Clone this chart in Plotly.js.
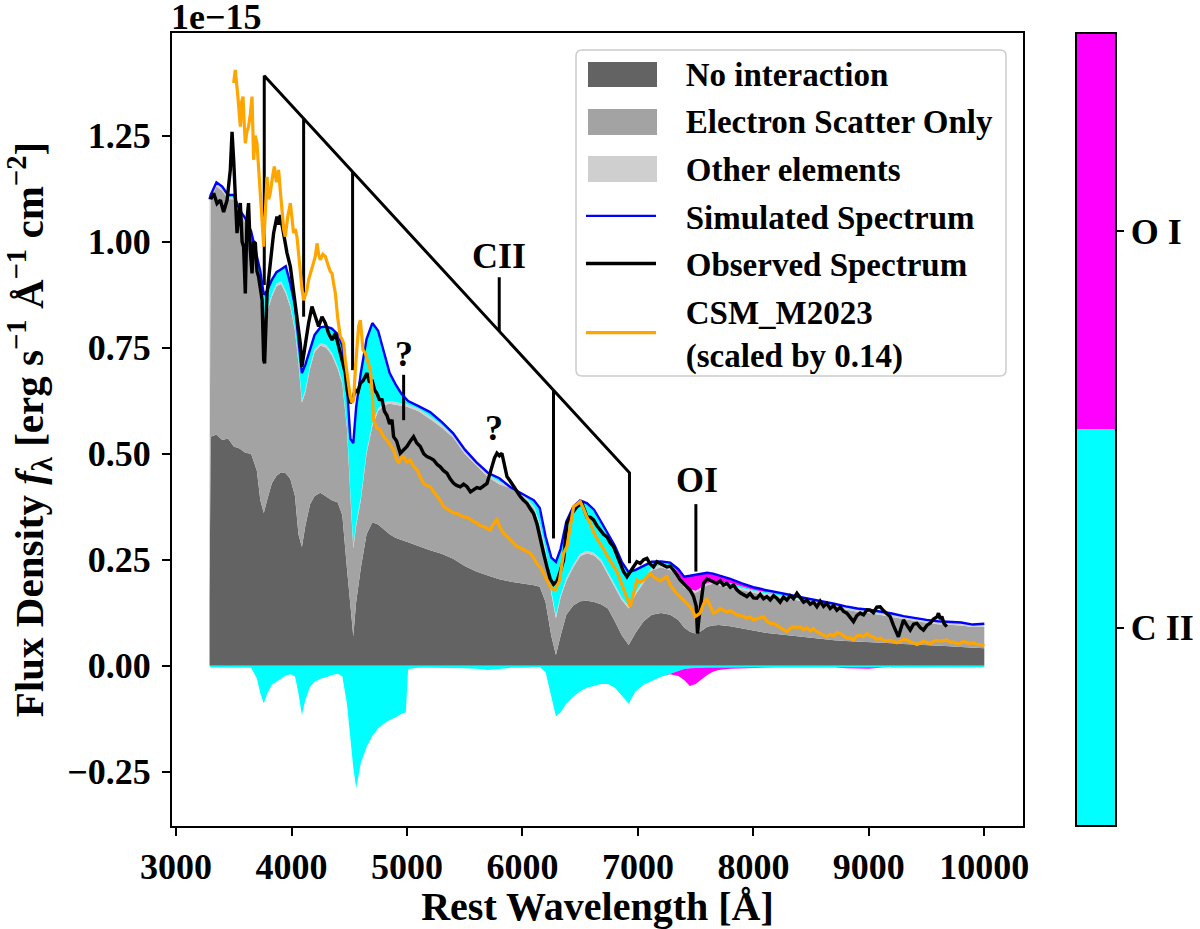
<!DOCTYPE html>
<html>
<head>
<meta charset="utf-8">
<script src="https://cdn.plot.ly/plotly-3.0.1.min.js"></script>
<style>html,body{margin:0;padding:0;background:#fff;}#chart{width:1200px;height:929px;}</style>
</head>
<body>
<div id="chart"></div>
<script>
// ---- model grid (Angstrom) ----
const wlModel = [
 3290,3300,3350,3400,3450,3500,3550,3600,3650,3700,
 3730,3760,3790,3830,3870,3910,3950,3990,4030,4060,
 4090,4120,4160,4200,4250,4300,4350,4400,4440,4480,
 4510,4535,4560,4600,4650,4700,4750,4800,4850,4900,
 4950,4990,5010,5100,5200,5300,5400,5500,5600,5700,
 5800,5900,6000,6100,6150,6200,6250,6290,6330,6380,
 6440,6500,6560,6620,6680,6740,6800,6860,6920,6980,
 7050,7120,7200,7280,7350,7400,7450,7500,7550,7600,
 7650,7700,7800,7900,8000,8100,8200,8300,8400,8500,
 8600,8700,8800,8900,9000,9100,9200,9300,9400,9500,
 9600,9700,9800,9900,10000];

// No interaction (top of dark grey)
const noInteraction = [
 0.155,0.54,0.545,0.532,0.536,0.517,0.512,0.502,0.50,0.46,
 0.39,0.36,0.392,0.43,0.448,0.456,0.454,0.44,0.40,0.31,
 0.28,0.33,0.38,0.40,0.408,0.40,0.39,0.385,0.355,0.23,
 0.15,0.07,0.15,0.23,0.31,0.338,0.333,0.322,0.31,0.302,
 0.296,0.293,0.291,0.282,0.272,0.264,0.252,0.235,0.222,0.213,
 0.204,0.198,0.194,0.19,0.186,0.15,0.07,0.025,0.07,0.12,
 0.142,0.152,0.153,0.150,0.145,0.135,0.105,0.072,0.049,0.078,
 0.105,0.12,0.124,0.12,0.108,0.09,0.08,0.076,0.082,0.092,
 0.095,0.096,0.093,0.088,0.082,0.078,0.075,0.072,0.069,0.065,
 0.062,0.06,0.058,0.057,0.055,0.054,0.053,0.051,0.05,0.049,
 0.047,0.046,0.044,0.043,0.041];

// Electron scatter only (cumulative top of mid grey)
const electronTop = [
 0.31,1.10,1.13,1.12,1.10,1.10,1.065,1.045,1.015,0.955,
 0.86,0.818,0.835,0.87,0.895,0.90,0.878,0.845,0.79,0.715,
 0.62,0.645,0.70,0.74,0.755,0.75,0.732,0.70,0.665,0.56,
 0.40,0.277,0.33,0.39,0.50,0.565,0.60,0.615,0.618,0.615,
 0.613,0.612,0.61,0.60,0.582,0.562,0.538,0.50,0.472,0.445,
 0.428,0.418,0.40,0.37,0.33,0.27,0.17,0.112,0.16,0.20,
 0.232,0.258,0.265,0.26,0.245,0.215,0.185,0.155,0.135,0.168,
 0.196,0.225,0.232,0.225,0.21,0.185,0.176,0.172,0.18,0.19,
 0.193,0.19,0.185,0.179,0.172,0.166,0.162,0.158,0.153,0.149,
 0.143,0.138,0.132,0.127,0.124,0.12,0.115,0.11,0.105,0.101,
 0.098,0.097,0.095,0.091,0.092];

// Other elements (cumulative top of light grey)
const otherTop = [
 1.095,1.106,1.136,1.126,1.106,1.106,1.071,1.051,1.021,0.961,
 0.866,0.824,0.841,0.876,0.901,0.906,0.884,0.851,0.796,0.721,
 0.626,0.651,0.706,0.746,0.761,0.756,0.738,0.706,0.671,0.566,
 0.406,0.283,0.336,0.396,0.506,0.571,0.606,0.621,0.624,0.621,
 0.619,0.618,0.616,0.606,0.588,0.568,0.544,0.506,0.478,0.451,
 0.434,0.424,0.405,0.376,0.336,0.276,0.176,0.118,0.166,0.206,
 0.238,0.264,0.271,0.266,0.251,0.221,0.191,0.161,0.141,0.174,
 0.202,0.231,0.238,0.231,0.216,0.19,0.181,0.177,0.185,0.195,
 0.198,0.195,0.19,0.184,0.177,0.171,0.167,0.163,0.158,0.154,
 0.148,0.143,0.137,0.132,0.129,0.125,0.12,0.115,0.11,0.106,
 0.103,0.102,0.1,0.096,0.097];

// C II contribution (cumulative top of cyan)
const ciiTop = [
 1.10,1.11,1.14,1.13,1.11,1.11,1.075,1.055,1.025,0.97,
 0.93,0.875,0.885,0.91,0.928,0.935,0.942,0.90,0.85,0.77,
 0.69,0.71,0.745,0.78,0.798,0.80,0.795,0.782,0.755,0.66,
 0.535,0.525,0.61,0.69,0.77,0.808,0.79,0.737,0.69,0.664,
 0.642,0.63,0.624,0.612,0.598,0.575,0.548,0.51,0.48,0.455,
 0.442,0.42,0.405,0.39,0.372,0.305,0.255,0.245,0.275,0.34,
 0.375,0.39,0.383,0.368,0.34,0.31,0.283,0.245,0.22,0.226,
 0.235,0.245,0.246,0.243,0.218,0.19,0.181,0.177,0.185,0.195,
 0.198,0.198,0.195,0.187,0.179,0.174,0.172,0.168,0.162,0.157,
 0.151,0.146,0.14,0.135,0.132,0.128,0.123,0.117,0.112,0.108,
 0.105,0.104,0.102,0.097,0.099];

// Simulated spectrum (total, blue line; top of O I magenta)
const simulated = [
 1.10,1.11,1.14,1.13,1.11,1.11,1.075,1.055,1.025,0.97,
 0.93,0.875,0.885,0.91,0.928,0.935,0.942,0.90,0.85,0.77,
 0.69,0.71,0.745,0.78,0.798,0.80,0.795,0.782,0.755,0.66,
 0.535,0.525,0.61,0.69,0.77,0.808,0.79,0.737,0.69,0.664,
 0.642,0.63,0.624,0.612,0.598,0.575,0.548,0.51,0.48,0.455,
 0.442,0.42,0.405,0.39,0.372,0.305,0.255,0.245,0.275,0.34,
 0.375,0.39,0.383,0.368,0.34,0.31,0.283,0.245,0.22,0.226,
 0.235,0.245,0.246,0.243,0.228,0.21,0.212,0.214,0.216,0.219,
 0.217,0.213,0.205,0.194,0.185,0.179,0.174,0.168,0.162,0.157,
 0.151,0.146,0.14,0.135,0.132,0.128,0.123,0.117,0.112,0.108,
 0.105,0.104,0.102,0.097,0.099];

// negative contributions
const ciiNeg = [
 0,-0.004,-0.004,-0.004,-0.004,-0.004,-0.004,-0.004,-0.005,-0.03,
 -0.065,-0.089,-0.065,-0.045,-0.038,-0.03,-0.023,-0.02,-0.025,-0.065,
 -0.116,-0.08,-0.05,-0.038,-0.031,-0.027,-0.022,-0.019,-0.025,-0.09,
 -0.17,-0.24,-0.289,-0.23,-0.192,-0.165,-0.148,-0.136,-0.128,-0.122,
 -0.114,-0.11,-0.008,-0.005,-0.005,-0.005,-0.006,-0.006,-0.007,-0.01,
 -0.008,-0.005,-0.005,-0.003,-0.003,-0.015,-0.07,-0.12,-0.11,-0.09,
 -0.073,-0.06,-0.052,-0.047,-0.043,-0.043,-0.052,-0.07,-0.089,-0.06,
 -0.045,-0.036,-0.026,-0.019,-0.012,-0.008,-0.006,-0.005,-0.005,-0.004,
 -0.004,-0.004,-0.003,-0.003,-0.003,-0.003,-0.003,-0.003,-0.003,-0.003,
 -0.003,-0.003,-0.003,-0.003,-0.003,-0.003,-0.003,-0.003,-0.003,-0.003,
 -0.003,-0.003,-0.003,-0.003,-0.003];
const oiNeg = [
 0,-0.004,-0.004,-0.004,-0.004,-0.004,-0.004,-0.004,-0.005,-0.03,
 -0.065,-0.089,-0.065,-0.045,-0.038,-0.03,-0.023,-0.02,-0.025,-0.065,
 -0.116,-0.08,-0.05,-0.038,-0.031,-0.027,-0.022,-0.019,-0.025,-0.09,
 -0.17,-0.24,-0.289,-0.23,-0.192,-0.165,-0.148,-0.136,-0.128,-0.122,
 -0.114,-0.11,-0.008,-0.005,-0.005,-0.005,-0.006,-0.006,-0.007,-0.01,
 -0.008,-0.005,-0.005,-0.003,-0.003,-0.015,-0.07,-0.12,-0.11,-0.09,
 -0.073,-0.06,-0.052,-0.047,-0.043,-0.043,-0.052,-0.07,-0.089,-0.06,
 -0.045,-0.036,-0.026,-0.02,-0.024,-0.034,-0.048,-0.043,-0.032,-0.022,
 -0.014,-0.01,-0.007,-0.006,-0.005,-0.004,-0.004,-0.004,-0.004,-0.004,
 -0.004,-0.004,-0.006,-0.007,-0.007,-0.005,-0.003,-0.003,-0.003,-0.003,
 -0.003,-0.003,-0.003,-0.003,-0.003];

// ---- observed spectrum ----
const obsWave = [
 3300,3326,3355,3384,3412,3442,3470,3485,3499,3513,
 3528,3557,3572,3585,3600,3614,3628,3643,3658,3672,
 3687,3701,3715,3730,3745,3759,3767,3788,3816,3845,
 3874,3889,3903,3932,3961,3990,4018,4047,4076,4090,
 4120,4148,4177,4206,4235,4264,4293,4321,4351,4380,
 4408,4437,4466,4481,4509,4530,4553,4575,4596,4620,
 4654,4675,4697,4720,4740,4760,4784,4805,4827,4850,
 4870,4884,4910,4942,4970,5000,5030,5057,5085,5115,
 5145,5173,5200,5231,5260,5288,5317,5346,5375,5404,
 5430,5462,5490,5520,5550,5577,5605,5635,5663,5693,
 5715,5736,5758,5779,5800,5822,5845,5866,5895,5923,
 5950,5981,6010,6039,6068,6096,6125,6154,6183,6212,
 6240,6269,6300,6330,6356,6385,6428,6472,6515,6540,
 6558,6590,6616,6645,6674,6703,6732,6760,6789,6818,
 6847,6875,6905,6935,6962,6991,7020,7050,7078,7106,
 7135,7164,7193,7222,7251,7280,7308,7337,7366,7395,
 7424,7453,7482,7505,7516,7528,7539,7555,7568,7597,
 7626,7655,7684,7713,7741,7771,7800,7828,7857,7886,
 7914,7944,7972,8001,8030,8059,8088,8117,8146,8175,
 8203,8232,8261,8290,8319,8348,8377,8406,8435,8463,
 8492,8521,8550,8579,8608,8636,8665,8694,8723,8752,
 8781,8810,8838,8867,8896,8925,8954,8983,9011,9040,
 9069,9098,9126,9155,9184,9213,9240,9256,9280,9300,
 9330,9358,9387,9416,9445,9473,9502,9531,9560,9590,
 9603,9618,9632,9650,9675];
const obsFlux = [
 1.10,1.114,1.09,1.098,1.07,1.098,1.169,1.259,1.193,1.114,
 1.02,1.091,1.0,0.988,0.878,1.05,1.091,0.98,0.925,1.0,
 0.996,0.93,0.917,0.89,0.862,0.721,0.713,0.878,0.957,1.02,
 1.059,1.04,1.063,1.012,0.973,0.941,0.878,0.815,0.76,0.705,
 0.76,0.808,0.847,0.823,0.80,0.823,0.808,0.784,0.768,0.784,
 0.752,0.721,0.69,0.65,0.619,0.63,0.65,0.645,0.666,0.672,
 0.69,0.668,0.674,0.65,0.642,0.628,0.627,0.60,0.59,0.57,
 0.58,0.54,0.53,0.501,0.51,0.517,0.53,0.54,0.525,0.517,
 0.50,0.493,0.49,0.485,0.475,0.469,0.46,0.454,0.44,0.43,
 0.425,0.422,0.428,0.422,0.41,0.414,0.42,0.418,0.425,0.43,
 0.45,0.469,0.49,0.501,0.495,0.501,0.47,0.446,0.435,0.422,
 0.41,0.399,0.39,0.383,0.37,0.359,0.335,0.304,0.265,0.233,
 0.205,0.192,0.20,0.225,0.249,0.336,0.359,0.375,0.383,0.365,
 0.351,0.35,0.344,0.33,0.32,0.31,0.304,0.29,0.281,0.26,
 0.241,0.222,0.21,0.222,0.233,0.245,0.241,0.25,0.253,0.24,
 0.233,0.245,0.241,0.236,0.233,0.235,0.226,0.215,0.202,0.195,
 0.186,0.178,0.163,0.14,0.076,0.11,0.131,0.17,0.194,0.205,
 0.202,0.198,0.194,0.20,0.19,0.194,0.185,0.19,0.179,0.172,
 0.168,0.163,0.17,0.16,0.159,0.168,0.158,0.163,0.155,0.165,
 0.159,0.15,0.162,0.155,0.165,0.158,0.171,0.16,0.15,0.155,
 0.145,0.15,0.139,0.152,0.14,0.147,0.135,0.142,0.131,0.138,
 0.128,0.124,0.115,0.104,0.118,0.124,0.12,0.132,0.131,0.125,
 0.138,0.139,0.13,0.122,0.116,0.095,0.08,0.068,0.09,0.108,
 0.095,0.084,0.098,0.10,0.09,0.084,0.095,0.10,0.11,0.115,
 0.124,0.11,0.116,0.10,0.092];

// ---- CSM_M2023 model (scaled by 0.14) ----
const csmWave = [
 3499,3513,3533,3545,3557,3568,3580,3590,3600,3614,
 3628,3643,3658,3672,3686,3701,3715,3730,3745,3759,
 3774,3788,3802,3816,3834,3851,3870,3888,3903,3918,
 3932,3946,3968,3990,4004,4018,4032,4047,4062,4076,
 4090,4105,4120,4134,4148,4163,4185,4206,4221,4235,
 4250,4271,4293,4307,4321,4336,4351,4365,4380,4400,
 4423,4437,4452,4466,4481,4495,4509,4524,4538,4553,
 4567,4581,4596,4610,4619,4639,4660,4683,4700,4711,
 4740,4769,4798,4827,4855,4884,4905,4928,4950,4971,
 5000,5028,5057,5087,5115,5144,5173,5202,5231,5260,
 5288,5317,5346,5375,5404,5433,5462,5490,5520,5548,
 5577,5606,5635,5663,5692,5721,5750,5779,5808,5836,
 5865,5894,5923,5952,5981,6010,6039,6068,6096,6125,
 6154,6183,6212,6241,6269,6284,6320,6356,6385,6414,
 6443,6470,6500,6530,6558,6587,6616,6645,6674,6703,
 6732,6760,6789,6818,6847,6875,6905,6934,6962,6991,
 7020,7049,7078,7106,7135,7164,7193,7222,7251,7280,
 7308,7337,7366,7395,7424,7453,7475,7496,7518,7539,
 7568,7597,7626,7655,7684,7712,7741,7770,7799,7827,
 7856,7885,7914,7943,7972,8001,8030,8059,8088,8117,
 8146,8175,8204,8233,8261,8290,8319,8348,8377,8406,
 8435,8463,8492,8521,8550,8579,8608,8636,8665,8694,
 8723,8752,8781,8810,8838,8867,8896,8925,8954,8983,
 9011,9040,9069,9098,9126,9155,9184,9213,9242,9271,
 9300,9329,9358,9386,9415,9444,9473,9502,9531,9560,
 9589,9617,9646,9675,9704,9733,9762,9790,9819,9848,
 9877,9906,9935,9964,10000];
const csmFlux = [
 1.374,1.405,1.35,1.30,1.271,1.33,1.342,1.28,1.232,1.26,
 1.271,1.30,1.342,1.193,1.25,1.232,1.18,1.114,1.05,0.988,
 1.08,1.153,1.10,1.114,1.15,1.177,1.14,1.169,1.12,1.067,
 1.03,1.012,1.06,1.091,1.05,1.02,1.03,1.012,0.97,0.925,
 0.89,0.862,0.875,0.886,0.91,0.925,0.945,0.965,0.996,0.97,
 0.957,0.97,0.965,0.95,0.941,0.93,0.925,0.90,0.878,0.82,
 0.776,0.77,0.76,0.72,0.69,0.66,0.634,0.62,0.627,0.70,
 0.76,0.80,0.815,0.77,0.745,0.737,0.72,0.697,0.64,0.579,
 0.56,0.556,0.54,0.532,0.52,0.509,0.49,0.477,0.49,0.493,
 0.48,0.485,0.47,0.462,0.445,0.43,0.425,0.422,0.41,0.399,
 0.39,0.375,0.37,0.367,0.36,0.359,0.355,0.351,0.35,0.344,
 0.34,0.336,0.33,0.328,0.325,0.32,0.335,0.344,0.325,0.312,
 0.305,0.297,0.29,0.281,0.278,0.273,0.27,0.265,0.255,0.241,
 0.233,0.218,0.20,0.186,0.18,0.179,0.20,0.265,0.281,0.33,
 0.375,0.38,0.387,0.37,0.35,0.336,0.315,0.30,0.289,0.275,
 0.26,0.249,0.235,0.222,0.202,0.18,0.16,0.14,0.17,0.202,
 0.197,0.202,0.21,0.218,0.21,0.205,0.20,0.205,0.21,0.19,
 0.179,0.17,0.163,0.155,0.148,0.139,0.13,0.116,0.12,0.124,
 0.145,0.159,0.14,0.124,0.128,0.135,0.131,0.126,0.13,0.124,
 0.12,0.118,0.116,0.112,0.115,0.108,0.11,0.113,0.116,0.105,
 0.10,0.10,0.095,0.09,0.085,0.08,0.088,0.092,0.09,0.092,
 0.085,0.09,0.082,0.088,0.08,0.075,0.072,0.068,0.074,0.07,
 0.078,0.076,0.07,0.065,0.066,0.061,0.07,0.072,0.068,0.076,
 0.07,0.068,0.062,0.065,0.06,0.058,0.06,0.057,0.054,0.058,
 0.062,0.061,0.056,0.054,0.05,0.053,0.058,0.055,0.052,0.057,
 0.06,0.058,0.06,0.061,0.055,0.056,0.052,0.053,0.057,0.054,
 0.052,0.054,0.05,0.05,0.047];

// ---- line-identification marks ----
const markX = [3764,3764,6927,6927,null,4105,4105,null,4529,4529,null,6269,6269,null,5799,5799,null,4971,4971,null,7502,7502];
const markY = [0.898,1.391,0.455,0.2415,null,1.290,0.823,null,1.165,0.697,null,0.650,0.300,null,0.789,0.916,null,0.579,0.686,null,0.222,0.381];
const labelText = ['CII','?','?','OI'];
const labelX = [5799,4977,5756,7511];
const labelY = [0.966,0.735,0.561,0.438];

// ---- axes ticks / legend / colorbar text ----
const xTicks = [3000,4000,5000,6000,7000,8000,9000,10000];
const xTickText = ['3000','4000','5000','6000','7000','8000','9000','10000'];
const yTicks = [-0.25,0,0.25,0.5,0.75,1.0,1.25];
const legendNames = ['No interaction','Electron Scatter Only','Other elements',
  'Simulated Spectrum','Observed Spectrum','CSM_M2023<br>(scaled by 0.14)'];
const colorbarLevels = [0, 2];
const colorbarTickVals = [0.5, 1.5];
const colorbarTickText = ['C II', 'O I'];

const FONT = "'Liberation Serif', 'Times New Roman', serif";
const DARK = '#636363', MID = '#a3a3a3', LIGHT = '#cfcfcf', CYAN = '#00ffff', MAG = '#ff00ff';
const PAD = '\u00a0\u00a0\u00a0';
const legendLabel = n => n.split('<br>').map(s => PAD + s).join('<br>');

function fillTrace(y, fill, color, name) {
  return {x: wlModel, y: y, type: 'scatter', mode: 'lines', fill: fill, fillcolor: color,
    line: {width: 0, color: color}, name: name, showlegend: false, hoverinfo: 'skip'};
}
// legend entries for the filled areas (their colour patches are drawn as layout shapes)
function legendOnly(name, group) {
  return {x: [null], y: [null], type: 'scatter', mode: 'lines', name: name, legendgroup: group,
    line: {width: 0, color: 'rgba(0,0,0,0)'}, hoverinfo: 'skip'};
}

const traces = [
  fillTrace(noInteraction, 'tozeroy', DARK, 'No interaction'),
  fillTrace(electronTop, 'tonexty', MID, 'Electron Scatter Only'),
  fillTrace(otherTop, 'tonexty', LIGHT, 'Other elements'),
  fillTrace(ciiTop, 'tonexty', CYAN, 'C II'),
  fillTrace(simulated, 'tonexty', MAG, 'O I'),
  fillTrace(ciiNeg, 'tozeroy', CYAN, 'C II (absorption)'),
  fillTrace(oiNeg, 'tonexty', MAG, 'O I (absorption)'),
  {x: markX, y: markY, type: 'scatter', mode: 'lines', name: 'line IDs', line: {color: 'black', width: 3},
   connectgaps: false, showlegend: false, hoverinfo: 'skip'},
  legendOnly(legendLabel(legendNames[0]), 'g1'),
  legendOnly(legendLabel(legendNames[1]), 'g2'),
  legendOnly(legendLabel(legendNames[2]), 'g3'),
  {x: wlModel, y: simulated, type: 'scatter', mode: 'lines', name: legendLabel(legendNames[3]),
   line: {color: '#0000ff', width: 2.4}, legendgroup: 'g4'},
  {x: obsWave, y: obsFlux, type: 'scatter', mode: 'lines', name: legendLabel(legendNames[4]),
   line: {color: 'black', width: 3.4}, legendgroup: 'g5'},
  {x: csmWave, y: csmFlux, type: 'scatter', mode: 'lines', name: legendLabel(legendNames[5]),
   line: {color: '#ffa500', width: 3.2}, legendgroup: 'g6'},
  {x: [2500, 2500], y: [0, 0], type: 'scatter', mode: 'markers', name: 'element', showlegend: false, hoverinfo: 'skip',
   marker: {size: 1, opacity: 0, color: colorbarLevels, cmin: 0, cmax: 2,
     colorscale: [[0, CYAN], [0.5, CYAN], [0.5, MAG], [1, MAG]], showscale: true,
     colorbar: {x: 1.0623, xanchor: 'left', y: 0.5, yanchor: 'middle', len: 1.0, lenmode: 'fraction',
       thickness: 40, thicknessmode: 'pixels', xpad: 0, ypad: 0, outlinewidth: 2, outlinecolor: 'black',
       tickmode: 'array', tickvals: colorbarTickVals, ticktext: colorbarTickText, ticks: 'outside',
       ticklen: 7, tickwidth: 2, tickcolor: 'black',
       tickfont: {family: FONT, size: 36, color: 'black', weight: 'bold'}}}}
];

const annotations = labelText.map((t, i) => ({x: labelX[i], y: labelY[i], xref: 'x', yref: 'y',
  text: t, showarrow: false, xanchor: 'center', yanchor: 'middle',
  font: {family: FONT, size: 36, color: 'black', weight: 'bold'}}));
annotations.push({x: 0, y: 1, xref: 'paper', yref: 'paper', text: '1e\u221215', showarrow: false,
  xanchor: 'left', yanchor: 'bottom', xshift: -3, yshift: -6,
  font: {family: FONT, size: 36, color: 'black', weight: 'bold'}});

// legend frame and colour patches (paper coordinates, drawn beneath the transparent legend)
const bx0 = 0.47474, bx1 = 0.98002, byt = 0.97856, byb = 0.56747, rx = 0.00705, ry = 0.00757;
const framePath = `M${bx0+rx},${byt} L${bx1-rx},${byt} Q${bx1},${byt} ${bx1},${byt-ry} L${bx1},${byb+ry} ` +
  `Q${bx1},${byb} ${bx1-rx},${byb} L${bx0+rx},${byb} Q${bx0},${byb} ${bx0},${byb+ry} L${bx0},${byt-ry} Q${bx0},${byt} ${bx0+rx},${byt} Z`;
const shapes = [
  {type: 'path', xref: 'paper', yref: 'paper', path: framePath, fillcolor: 'rgba(255,255,255,0.8)',
   line: {color: '#cccccc', width: 1.5}, layer: 'above'},
  {type: 'rect', xref: 'paper', yref: 'paper', x0: 0.48884, x1: 0.56992, y0: 0.93190, y1: 0.96343,
   fillcolor: DARK, line: {width: 0}, layer: 'above'},
  {type: 'rect', xref: 'paper', yref: 'paper', x0: 0.48884, x1: 0.56992, y0: 0.87137, y1: 0.90416,
   fillcolor: MID, line: {width: 0}, layer: 'above'},
  {type: 'rect', xref: 'paper', yref: 'paper', x0: 0.48884, x1: 0.56992, y0: 0.81211, y1: 0.84489,
   fillcolor: LIGHT, line: {width: 0}, layer: 'above'}
];

const layout = {
  width: 1200, height: 929,
  margin: {l: 172, r: 177, t: 33, b: 103, pad: 0, autoexpand: false},
  paper_bgcolor: 'white', plot_bgcolor: 'white',
  font: {family: FONT, size: 36, color: 'black', weight: 'bold'},
  showlegend: true,
  xaxis: {range: [2965, 10335], tickmode: 'array', tickvals: xTicks, ticktext: xTickText, ticks: 'outside', ticklen: 8,
    tickwidth: 2, tickcolor: 'black', showline: true, linecolor: 'black', linewidth: 2, mirror: true,
    showgrid: false, zeroline: false, automargin: false,
    tickfont: {family: FONT, size: 36, color: 'black', weight: 'bold'},
    title: {text: 'Rest Wavelength [Å]', font: {family: FONT, size: 40, color: 'black', weight: 'bold'}, standoff: 8}},
  yaxis: {range: [-0.378, 1.492], tickmode: 'array', tickvals: yTicks, tickformat: '.2f', ticks: 'outside',
    ticklen: 8, tickwidth: 2, tickcolor: 'black', showline: true, linecolor: 'black', linewidth: 2, mirror: true,
    showgrid: false, zeroline: false, automargin: false, ticklabelstandoff: 4,
    tickfont: {family: FONT, size: 36, color: 'black', weight: 'bold'},
    title: {text: 'Flux Density <i>f</i><sub>λ</sub> [erg s<sup>\u22121</sup> Å<sup>\u22121</sup> cm<sup>\u22122</sup>]',
      font: {family: FONT, size: 41, color: 'black', weight: 'bold'}, standoff: 12}},
  legend: {x: 0.48061, y: 0.98487, xanchor: 'left', yanchor: 'top', bgcolor: 'rgba(0,0,0,0)',
    borderwidth: 0, itemwidth: 70, tracegroupgap: 1.75, traceorder: 'grouped',
    font: {family: FONT, size: 33, color: 'black', weight: 'bold'}},
  shapes: shapes,
  annotations: annotations
};

Plotly.newPlot('chart', traces, layout, {displayModeBar: false, staticPlot: true});
</script>
</body>
</html>
